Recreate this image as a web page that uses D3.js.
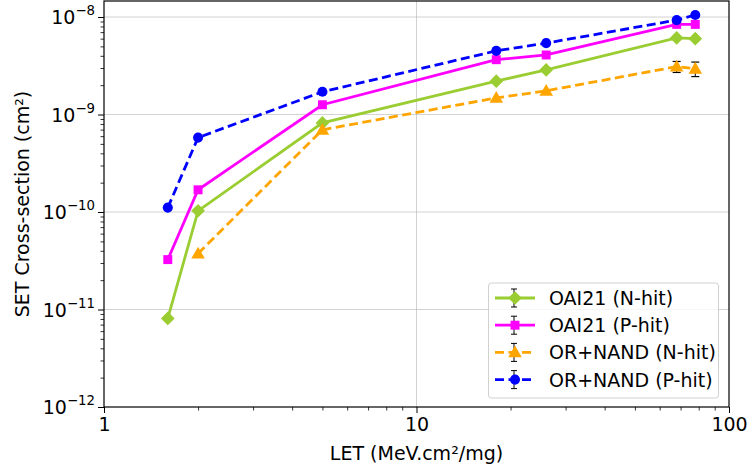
<!DOCTYPE html>
<html><head><meta charset="utf-8">
<script src="https://cdn.jsdelivr.net/npm/d3@7"></script>
<style>body{margin:0;background:#fff}svg{display:block;font-family:"DejaVu Sans",sans-serif}</style>
</head><body><svg id="c" width="749" height="473"></svg>
<script>
const letValues = [1.6, 2, 5, 18, 26, 68, 78];
const oaiN   = [8.1e-12, 1.03e-10, 8.2e-10, 2.2e-9, 2.87e-9, 6.1e-9, 6.0e-9];
const oaiP   = [3.25e-11, 1.69e-10, 1.26e-9, 3.65e-9, 4.08e-9, 8.4e-9, 8.4e-9];
const orN    = [null, 3.75e-11, 6.97e-10, 1.48e-9, 1.75e-9, 3.1e-9, 2.95e-9];
const orP    = [1.11e-10, 5.8e-10, 1.71e-9, 4.5e-9, 5.4e-9, 9.3e-9, 1.05e-8];
const orNErr = [0, 0, 0, 0, 0, 0.4e-9, 0.5e-9];
const seriesNames = ["OAI21 (N-hit)", "OAI21 (P-hit)", "OR+NAND (N-hit)", "OR+NAND (P-hit)"];
const xTicks = [1, 10, 100];
const xTickLabels = ["1", "10", "100"];
const yTicks = [1e-12, 1e-11, 1e-10, 1e-9, 1e-8];
const yTickExps = ["−12", "−11", "−10", "−9", "−8"];

const series = [
  {name: seriesNames[0], vals: oaiN, err: null, color: "#9acd32", dash: null, marker: "diamond"},
  {name: seriesNames[1], vals: oaiP, err: null, color: "#ff00ff", dash: null, marker: "square"},
  {name: seriesNames[2], vals: orN, err: orNErr, color: "#ffa500", dash: "9,4.5", marker: "triangle"},
  {name: seriesNames[3], vals: orP, err: null, color: "#0000ff", dash: "9,4.5", marker: "circle"}
];

const W = 749, H = 473;
const m = {l: 104, r: 20, t: 1, b: 66};
const svg = d3.select("#c");
const x = d3.scaleLog().domain([1, 100]).range([m.l, W - m.r]);
const y = d3.scaleLog().domain([1e-12, 1.46e-8]).range([H - m.b, m.t]);
const FS = 19;

// grid
const g = svg.append("g");
g.selectAll(".gx").data([10]).enter().append("line")
  .attr("x1", d => x(d)).attr("x2", d => x(d)).attr("y1", m.t).attr("y2", H - m.b)
  .attr("stroke", "#b0b0b0").attr("stroke-width", 0.8).attr("opacity", 0.7);
g.selectAll(".gy").data(yTicks.slice(1)).enter().append("line")
  .attr("x1", m.l).attr("x2", W - m.r).attr("y1", d => y(d)).attr("y2", d => y(d))
  .attr("stroke", "#b0b0b0").attr("stroke-width", 0.8).attr("opacity", 0.7);

// minor ticks
const xMinor = [];
[1, 10].forEach(b => { for (let k = 2; k <= 9; k++) xMinor.push(b * k); });
const yMinor = [];
[1e-12, 1e-11, 1e-10, 1e-9].forEach(b => { for (let k = 2; k <= 9; k++) yMinor.push(b * k); });

const xAxis = d3.axisBottom(x).tickValues(xTicks).tickFormat((d, i) => xTickLabels[i]).tickSize(6).tickPadding(5);
const xa = svg.append("g").attr("transform", `translate(0,${H - m.b})`).call(xAxis);
xa.select(".domain").remove();
xa.selectAll("text").attr("font-size", FS).attr("fill", "#000").attr("font-family", "DejaVu Sans");
xa.selectAll("line").attr("stroke", "#000").attr("stroke-width", 1);
const xm = svg.append("g").attr("transform", `translate(0,${H - m.b})`)
  .call(d3.axisBottom(x).tickValues(xMinor).tickFormat("").tickSize(3.5));
xm.select(".domain").remove();
xm.selectAll("line").attr("stroke", "#000").attr("stroke-width", 0.8);

const yAxis = d3.axisLeft(y).tickValues(yTicks).tickFormat("").tickSize(6);
const ya = svg.append("g").attr("transform", `translate(${m.l},0)`).call(yAxis);
ya.select(".domain").remove();
ya.selectAll("line").attr("stroke", "#000").attr("stroke-width", 1);
const ym = svg.append("g").attr("transform", `translate(${m.l},0)`)
  .call(d3.axisLeft(y).tickValues(yMinor).tickFormat("").tickSize(3.5));
ym.select(".domain").remove();
ym.selectAll("line").attr("stroke", "#000").attr("stroke-width", 0.8);

// y tick labels with superscripts
yTicks.forEach((t, i) => {
  const tx = svg.append("text").attr("x", m.l - 9).attr("y", y(t) + 7)
    .attr("text-anchor", "end").attr("font-size", FS).attr("fill", "#000");
  tx.append("tspan").text("10");
  tx.append("tspan").attr("dy", -9).attr("font-size", FS * 0.7).text(yTickExps[i]);
});

// axis labels
svg.append("text").attr("x", (m.l + W - m.r) / 2).attr("y", 460).attr("text-anchor", "middle")
  .attr("font-size", FS).text("LET (MeV.cm²/mg)");
svg.append("text").attr("transform", `translate(29,${(m.t + H - m.b) / 2}) rotate(-90)`)
  .attr("text-anchor", "middle").attr("font-size", FS).text("SET Cross-section (cm²)");

// markers
function markerPath(type) {
  const sym = {diamond: d3.symbolDiamond2, square: d3.symbolSquare, triangle: d3.symbolTriangle, circle: d3.symbolCircle}[type];
  const size = {diamond: 120, square: 80, triangle: 80, circle: 80}[type];
  return d3.symbol(sym, size)();
}
function drawMarker(sel, type, cx, cy, color) {
  let p = sel.append("path").attr("d", markerPath(type)).attr("fill", color);
  if (type === "triangle") p.attr("transform", `translate(${cx},${cy + 1})`);
  else p.attr("transform", `translate(${cx},${cy})`);
}

const plot = svg.append("g");
series.forEach(s => {
  const pts = letValues.map((v, i) => ({x: v, y: s.vals[i], e: s.err ? s.err[i] : 0})).filter(p => p.y != null);
  pts.filter(p => p.e > 0).forEach(p => {
    const cx = x(p.x);
    const y1 = y(p.y + p.e), y2 = y(p.y - p.e);
    plot.append("line").attr("x1", cx).attr("x2", cx).attr("y1", y1).attr("y2", y2).attr("stroke", "#000").attr("stroke-width", 1);
    [y1, y2].forEach(yy => plot.append("line").attr("x1", cx - 4).attr("x2", cx + 4).attr("y1", yy).attr("y2", yy).attr("stroke", "#000").attr("stroke-width", 1.2));
  });
  plot.append("path").datum(pts)
    .attr("d", d3.line().x(d => x(d.x)).y(d => y(d.y)))
    .attr("fill", "none").attr("stroke", s.color).attr("stroke-width", 2.8)
    .attr("stroke-dasharray", s.dash);
  pts.forEach(p => drawMarker(plot, s.marker, x(p.x), y(p.y), s.color));
});

// frame
svg.append("rect").attr("x", m.l).attr("y", m.t).attr("width", W - m.r - m.l).attr("height", H - m.b - m.t)
  .attr("fill", "none").attr("stroke", "#000").attr("stroke-width", 1.2);

// legend
const lg = svg.append("g");
lg.append("rect").attr("x", 488.5).attr("y", 283).attr("width", 230).attr("height", 115).attr("rx", 3)
  .attr("fill", "#fff").attr("fill-opacity", 0.8).attr("stroke", "#d0d0d0").attr("stroke-width", 1);
series.forEach((s, i) => {
  const yy = 298 + i * 27.2;
  lg.append("line").attr("x1", 514).attr("x2", 514).attr("y1", yy - 9).attr("y2", yy + 9).attr("stroke", "#000").attr("stroke-width", 1);
  [yy - 9, yy + 9].forEach(v => lg.append("line").attr("x1", 511).attr("x2", 517).attr("y1", v).attr("y2", v).attr("stroke", "#000").attr("stroke-width", 1));
  lg.append("line").attr("x1", 495).attr("x2", 535).attr("y1", yy).attr("y2", yy)
    .attr("stroke", s.color).attr("stroke-width", 2.8).attr("stroke-dasharray", s.dash ? "9,4.5" : null);
  drawMarker(lg, s.marker, 515, yy, s.color);
  lg.append("text").attr("x", 549).attr("y", yy + 7).attr("font-size", FS).text(s.name);
});
</script></body></html>
